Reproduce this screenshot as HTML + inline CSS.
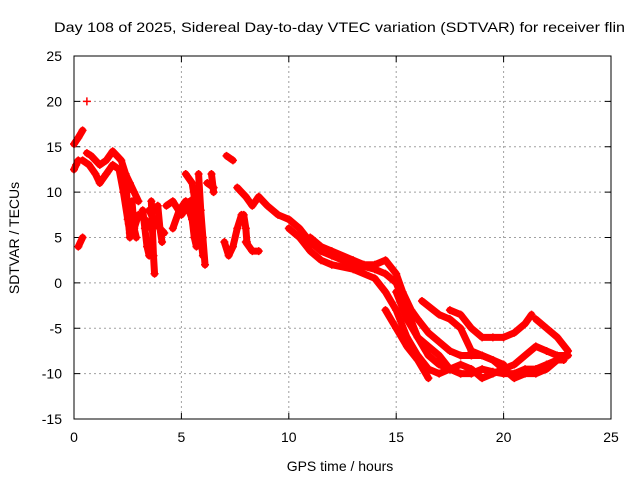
<!DOCTYPE html>
<html><head><meta charset="utf-8"><style>
body{margin:0;background:#fff;font-family:"Liberation Sans",sans-serif}
svg text{font-family:"Liberation Sans",sans-serif;font-size:14px;fill:#000}
</style></head><body>
<svg id="chart" width="640" height="480" viewBox="0 0 640 480">
<rect width="640" height="480" fill="#fff"/>
<text x="54" y="32" textLength="571" lengthAdjust="spacingAndGlyphs">Day 108 of 2025, Sidereal Day-to-day VTEC variation (SDTVAR) for receiver flin</text>
<g id="grid"></g><g id="axes"></g><g id="marks"></g>
<rect x="74" y="56" width="537" height="363" fill="none" stroke="#000" stroke-width="1"/>
<text x="340" y="471" text-anchor="middle">GPS time / hours</text>
<text transform="translate(19,238) rotate(-90)" text-anchor="middle">SDTVAR / TECUs</text>
</svg>
<script>
const xTicks=[0,5,10,15,20,25];
const yTicks=[25,20,15,10,5,0,-5,-10,-15];
const trackX=[
[0,0.1,0.2],[0,0.2,0.4],[0.6],
[0.6,0.8,1,1.2,1.5,1.8,2,2.2,2.4,2.6,2.8,3],
[0.4,0.7,1,1.2,1.5,1.8,2.1,2.3,2.5,2.6,2.8,3,3.3,3.6],
[0.2,0.4],[3.5,3.7,4,4.2],
[2.4,2.45,2.5,2.55,2.6],[2.7,2.75,2.8,2.9],
[3.2,3.3,3.4,3.5],[3.6,3.65,3.7,3.75],[3.9,4,4.1],
[4.3,4.6,5,5.3,5.5,5.7],[4.6,4.9,5.2,5.5,5.7],[5.2,5.5,5.7,5.9,6],[5.4,5.5,5.6,5.7],
[5.8,5.9,6.0,6.1],[6.2,6.5],[6.4,6.5],[7.1,7.4],
[7,7.2,7.4,7.6,7.8],[7.9,8.0,8.05],
[7.6,8,8.3,8.6,9,9.5,10,10.5,11,11.5,12,12.5,13,13.5,14,14.5,15,15.5,16,16.5,17,17.5,18,18.5,19,19.5,20,20.5,21,21.5,22,22.5,22.8],
[8,8.3,8.6],
[10,10.5,11,11.5,12,13,14,14.5,15,15.5,16,16.5,17,17.5,18,18.5,19,19.5,20,20.5,21,21.5,22,22.5],
[11,11.5,12,13,13.5,14,14.5,15,15.3,15.7,16,16.5,17,17.5,18,18.5,19,19.5,20],
[14.5,15,15.5,16,16.5],
[16.2,17,17.5,18,18.5,19,19.5,20,20.5,21,21.5,22,22.5,23],
[17.5,18,18.5,19,19.5,20,20.5,21,21.3],
[21.5,22,22.5,23],
[15,15.5,16,16.5,17,17.5,18]
];
const trackY=[
[12.5,13,13.5],[15.3,16,16.8],[20],
[14.3,14,13.5,13,13.5,14.5,14,13.5,12,11,10,9],
[13.5,13,12,11,12,13,12.5,10,7,5.5,6,7.5,7,6],
[4,5],[8,7,6,5.5],
[12,10,8,6.5,5],[9,7.5,6,5],
[8,6,4,3],[9,6,3,1],[8.5,6,4.5],
[8.5,9,7.5,8.5,9,10],[6,8,9,7,6],[12,11,8,5,3],[9,7,5,4],
[12,8,5,2],[11,10.5],[12,10],[14,13.5],
[4.5,3,4,6,7.5],[7.5,6,4.5],
[10.5,9.5,8.5,9.5,8.5,7.5,7,6,4.5,3.5,3,2.5,2,1.8,1.5,1,0,-3,-6,-8,-9,-9.5,-10,-10,-9.5,-9.8,-10,-10,-9.5,-9.5,-9,-8.5,-8.5],
[4.5,3.5,3.5],
[6,5,3.5,2.5,2,1.5,0.5,-1,-3,-6,-8,-9.5,-10,-9.5,-9,-9.5,-10.5,-10,-9.5,-10.5,-10,-10,-9.5,-8.5],
[5,4,3.5,2.5,2,2,2.5,1,-1,-3,-4,-5.5,-6.5,-7.5,-8,-8,-8,-8.5,-9],
[-3,-5,-7,-8.5,-10.5],
[-2,-3.5,-4,-5,-7.5,-8,-8.5,-9.5,-9,-8,-7,-7.5,-8,-8],
[-3,-3.5,-5,-6,-6,-6,-5.5,-4.5,-3.5],
[-4,-5,-6,-7.5],
[-1,-4,-6,-7,-8,-9.5,-10]
];
const NS="http://www.w3.org/2000/svg";
const X0=74,X1=611,Y0=419,Y1=56;
function sx(v){return X0+(v-0)/(25-0)*(X1-X0);}
function sy(v){return Y0-(v+15)/(25+15)*(Y0-Y1);}
function mk(t,a,p){const e=document.createElementNS(NS,t);for(const k in a)e.setAttribute(k,a[k]);p.appendChild(e);return e;}
const grid=document.getElementById('grid'),axes=document.getElementById('axes'),marks=document.getElementById('marks');
xTicks.forEach(v=>{const x=sx(v);
 if(v>0&&v<25){const l=mk('line',{x1:x,x2:x,y1:Y1,y2:Y0,stroke:'#a0a0a0','stroke-dasharray':'2,3'},grid);
 
 }
 mk('line',{x1:x,x2:x,y1:Y0,y2:Y0-6,stroke:'#000'},axes);mk('line',{x1:x,x2:x,y1:Y1,y2:Y1+6,stroke:'#000'},axes);
 const t=mk('text',{x:x,y:442,'text-anchor':'middle'},axes);t.textContent=v;
 
 });
yTicks.forEach(v=>{const y=sy(v);
 if(v>-15&&v<25){const l=mk('line',{x1:X0,x2:X1,y1:y,y2:y,stroke:'#a0a0a0','stroke-dasharray':'2,3'},grid);
 
 }
 mk('line',{x1:X0,x2:X0+6,y1:y,y2:y,stroke:'#000'},axes);mk('line',{x1:X1,x2:X1-6,y1:y,y2:y,stroke:'#000'},axes);
 const t=mk('text',{x:62,y:y+5,'text-anchor':'end'},axes);t.textContent=v;
 
 });
trackX.forEach((xs,i)=>{const ys=trackY[i];
 if(xs.length>1){const pts=xs.map((x,j)=>sx(x)+','+sy(ys[j])).join(' ');
  const pl=mk('polyline',{points:pts,fill:'none',stroke:'#f00','stroke-width':7,'stroke-linejoin':'round','stroke-linecap':'round'},marks);
  
  }
 xs.forEach((x,j)=>{const px=sx(x),py=sy(ys[j]);
  const p=mk('path',{d:`M${px-4},${py}H${px+4}M${px},${py-4}V${py+4}`,stroke:'#f00','stroke-width':1.5},marks);
  
  });
});
</script>
</body></html>
